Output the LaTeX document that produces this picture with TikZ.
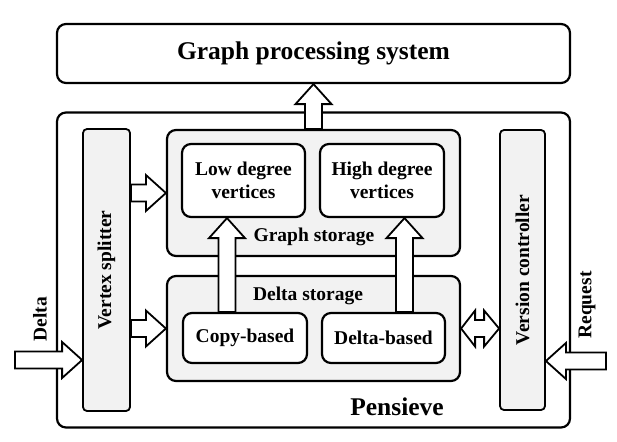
\documentclass[tikz,border=0pt]{standalone}
\usepackage{fontspec}
\setmainfont{Liberation Serif}[BoldFont={Liberation Serif Bold}]
\usepackage{graphicx}
\usetikzlibrary{calc}
\definecolor{boxgray}{HTML}{F2F2F2}
\tikzset{
  txt/.style={inner sep=0pt, align=center, font=\fontsize{19.5}{23}\selectfont\bfseries},
  bigtxt/.style={inner sep=0pt, font=\fontsize{25.5}{28}\selectfont\bfseries},
  block/.style={txt, draw, line width=2.2pt, rounded corners=9pt, fill=white},
  store/.style={block, fill=boxgray},
  bar/.style={block, fill=boxgray, line width=1.8pt, rounded corners=4pt},
  fatarrow/.style={draw, fill=white, line width=1.8pt, line join=miter,
    to path={let \p1=($(\tikztotarget)!20pt!(\tikztostart)$) in
      ($(\tikztostart)!8.5pt!90:(\tikztotarget)$) -- ($(\p1)!8.5pt!90:(\tikztotarget)$)
      -- ($(\p1)!18pt!90:(\tikztotarget)$) -- (\tikztotarget)
      -- ($(\p1)!18pt!-90:(\tikztotarget)$) -- ($(\p1)!8.5pt!-90:(\tikztotarget)$)
      -- ($(\tikztostart)!8.5pt!-90:(\tikztotarget)$) -- cycle}},
  fatarrows/.style={draw, fill=white, line width=1.8pt, line join=miter,
    to path={let \p1=($(\tikztostart)!14pt!(\tikztotarget)$), \p2=($(\tikztotarget)!15pt!(\tikztostart)$) in
      (\tikztostart) -- ($(\p1)!18pt!90:(\tikztotarget)$) -- ($(\p1)!8.5pt!90:(\tikztotarget)$)
      -- ($(\p2)!8.5pt!90:(\tikztotarget)$) -- ($(\p2)!18pt!90:(\tikztotarget)$) -- (\tikztotarget)
      -- ($(\p2)!18pt!-90:(\tikztotarget)$) -- ($(\p2)!8.5pt!-90:(\tikztotarget)$)
      -- ($(\p1)!8.5pt!-90:(\tikztotarget)$) -- ($(\p1)!18pt!-90:(\tikztotarget)$) -- cycle}}
}
\begin{document}
\begin{tikzpicture}[x=1pt, y=-1pt]
        \useasboundingbox (0,0) rectangle (617,441);
        % Nodes
        \node (gps) [block, bigtxt, minimum width=513pt, minimum height=59pt] at (313.5,53.5) {Graph processing system};
        \node (pen) [block, minimum width=513pt, minimum height=315pt] at (313.5,270) {};
        \node (penlabel) [bigtxt] at (397,407) {Pensieve};
        \node (vs) [bar, minimum width=47pt, minimum height=282pt] at (106.5,270) {\rotatebox{90}{Vertex splitter}};
        \node (vc) [bar, minimum width=45pt, minimum height=280pt] at (522.5,270) {\rotatebox{90}{Version controller}};
        \node (gs) [store, minimum width=293pt, minimum height=126pt] at (313.5,193) {};
        \node (gslabel) [txt] at (314,237) {Graph storage};
        \node (ds) [store, minimum width=293pt, minimum height=105pt] at (313.5,328.5) {};
        \node (dslabel) [txt] at (308,296) {Delta storage};
        \node (ld) [block, minimum width=123pt, minimum height=73pt] at (243.5,180.5) {Low degree\\vertices};
        \node (hd) [block, minimum width=124pt, minimum height=73pt] at (382,180.5) {High degree\\vertices};
        \node (cb) [block, minimum width=124pt, minimum height=50pt] at (245,338) {Copy-based};
        \node (db) [block, minimum width=123pt, minimum height=50pt] at (383.5,338) {Delta-based};
        \node (deltalabel) [txt, rotate=90] at (40,319) {Delta};
        \node (reqlabel) [txt, rotate=90] at (587,305) {Request};

        % Arrow ends
        \coordinate (deltain) at (15,360);
        \coordinate (reqin) at (606,361);
        \coordinate (deltaend) at (vs.west |- deltain);
        \coordinate (reqend) at (vc.east |- reqin);
        \coordinate (gsin) at (vs.east |- gs.west);
        \coordinate (dsin) at (vs.east |- ds.west);
        \coordinate (dsout) at (vc.west |- ds.east);
        \coordinate (lowfrom) at ($(cb.north)+(-18,0)$);
        \coordinate (lowto) at (lowfrom |- ld.south);
        \coordinate (highfrom) at ($(db.north)+(21,0)$);
        \coordinate (highto) at (highfrom |- hd.south);

        % Block arrows
        \draw[fatarrow] (gs.north) to (gps.south);
        \draw[fatarrow] (gsin) to (gs.west);
        \draw[fatarrow] (dsin) to (ds.west);
        \draw[fatarrow] (deltain) to (deltaend);
        \draw[fatarrow] (reqin) to (reqend);
        \draw[fatarrow] (lowfrom) to (lowto);
        \draw[fatarrow] (highfrom) to (highto);
        \draw[fatarrows] (ds.east) to (dsout);
    \end{tikzpicture}
\end{document}
